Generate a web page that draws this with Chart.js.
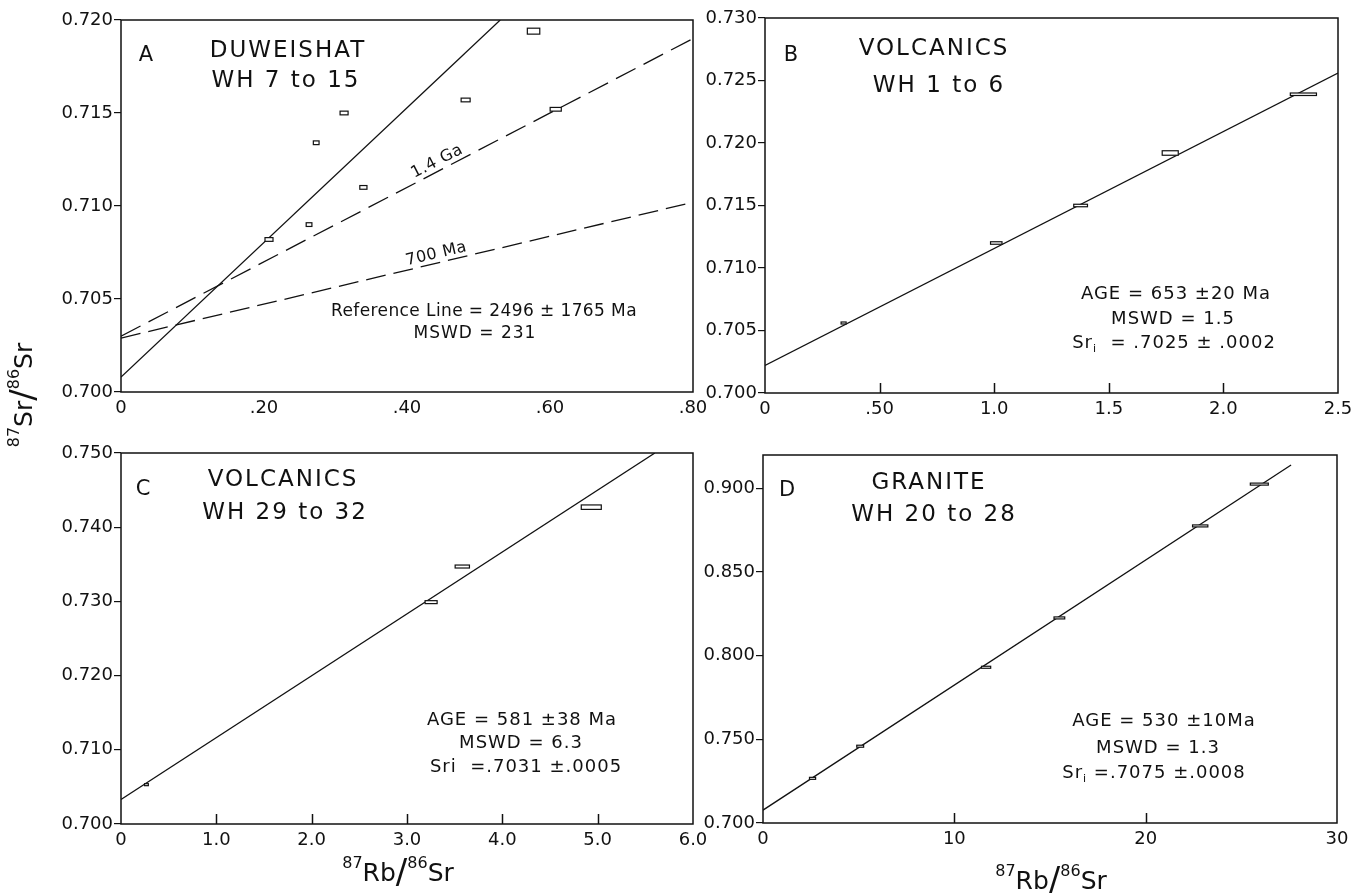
<!DOCTYPE html>
<html>
<head>
<meta charset="utf-8">
<title>Rb-Sr isochrons</title>
<script src="https://cdn.jsdelivr.net/npm/chart.js@4.4.1/dist/chart.umd.min.js"></script>
<style>
  html, body { margin: 0; padding: 0; background: #fff; }
  #page { position: relative; width: 1361px; height: 893px; overflow: hidden; }
  #page canvas { position: absolute; left: 0; top: 0; }
</style>
</head>
<body>
<div id="page">
  <canvas id="chartA" width="1361" height="893"></canvas>
  <canvas id="chartB" width="1361" height="893"></canvas>
  <canvas id="chartC" width="1361" height="893"></canvas>
  <canvas id="chartD" width="1361" height="893"></canvas>
</div>
<script>
// Panel A - Duweishat, WH 7 to 15
const A_RB = [0.207, 0.263, 0.273, 0.312, 0.339, 0.482, 0.577, 0.608];
const A_SR = [0.7082, 0.7090, 0.7134, 0.7150, 0.7110, 0.7157, 0.7194, 0.7152];
const A_RB_ERR = [0.0056, 0.004, 0.004, 0.0056, 0.005, 0.0063, 0.0087, 0.0078];
const A_SR_ERR = [0.0001, 0.0001, 0.0001, 0.0001, 0.0001, 0.0001, 0.00016, 0.0001];
const A_REF_X = [0, 0.5304];
const A_REF_Y = [0.7008, 0.7200];
const A_GA_X = [0, 0.80];
const A_GA_Y = [0.7030, 0.7190];
const A_MA_X = [0, 0.80];
const A_MA_Y = [0.7029, 0.7102];
const A_X_TICKS = [0, 0.2, 0.4, 0.6, 0.8];
const A_X_LABELS = ['0', '.20', '.40', '.60', '.80'];
const A_Y_TICKS = [0.700, 0.705, 0.710, 0.715, 0.720];
const A_Y_LABELS = ['0.700', '0.705', '0.710', '0.715', '0.720'];

// Panel B - Volcanics, WH 1 to 6
const B_RB = [0.343, 1.009, 1.377, 1.768, 2.349];
const B_SR = [0.7056, 0.7120, 0.7150, 0.7192, 0.7239];
const B_RB_ERR = [0.011, 0.025, 0.03, 0.035, 0.057];
const B_SR_ERR = [0.00005, 0.0001, 0.0001, 0.00018, 0.0001];
const B_LINE_X = [0, 2.5];
const B_LINE_Y = [0.7022, 0.7256];
const B_X_TICKS = [0, 0.5, 1.0, 1.5, 2.0, 2.5];
const B_X_LABELS = ['0', '.50', '1.0', '1.5', '2.0', '2.5'];
const B_Y_TICKS = [0.700, 0.705, 0.710, 0.715, 0.720, 0.725, 0.730];
const B_Y_LABELS = ['0.700', '0.705', '0.710', '0.715', '0.720', '0.725', '0.730'];

// Panel C - Volcanics, WH 29 to 32
const C_RB = [0.267, 3.253, 3.58, 4.933];
const C_SR = [0.7053, 0.7299, 0.7347, 0.7427];
const C_RB_ERR = [0.02, 0.063, 0.075, 0.105];
const C_SR_ERR = [0.0001, 0.0002, 0.0002, 0.0003];
const C_LINE_X = [0, 5.60];
const C_LINE_Y = [0.7033, 0.7500];
const C_X_TICKS = [0, 1, 2, 3, 4, 5, 6];
const C_X_LABELS = ['0', '1.0', '2.0', '3.0', '4.0', '5.0', '6.0'];
const C_Y_TICKS = [0.700, 0.710, 0.720, 0.730, 0.740, 0.750];
const C_Y_LABELS = ['0.700', '0.710', '0.720', '0.730', '0.740', '0.750'];

// Panel D - Granite, WH 20 to 28
const D_RB = [2.59, 5.08, 11.66, 15.49, 22.85, 25.94];
const D_SR = [0.7267, 0.7459, 0.7931, 0.8226, 0.8776, 0.9026];
const D_RB_ERR = [0.16, 0.18, 0.24, 0.28, 0.40, 0.47];
const D_SR_ERR = [0.0004, 0.0004, 0.0004, 0.0004, 0.0004, 0.0004];
const D_LINE_X = [0, 27.6];
const D_LINE_Y = [0.7077, 0.9140];
const D_X_TICKS = [0, 10, 20, 30];
const D_X_LABELS = ['0', '10', '20', '30'];
const D_Y_TICKS = [0.700, 0.750, 0.800, 0.850, 0.900];
const D_Y_LABELS = ['0.700', '0.750', '0.800', '0.850', '0.900'];

const FONT = '"DejaVu Sans", "Liberation Sans", sans-serif';
const INK = '#111';
const Y_W = 70, X_H = 30;

const pairs = (xs, ys) => xs.map((x, i) => ({ x, y: ys[i] }));

// draws a string made of normal / sup / sub / big pieces, centred on x
function drawRich(ctx, parts, x, y, size, spacing) {
    const fontFor = k => {
        const s = k === 'sup' || k === 'sub' ? Math.round(size * 0.62) : k === 'big' ? Math.round(size * 1.35) : size;
        return `${s}px ${FONT}`;
    };
    ctx.letterSpacing = (spacing || 0) + 'px';
    let total = 0;
    parts.forEach(([t, k]) => { ctx.font = fontFor(k); total += ctx.measureText(t).width; });
    let cx = x - total / 2;
    ctx.textAlign = 'left';
    ctx.textBaseline = 'middle';
    parts.forEach(([t, k]) => {
        ctx.font = fontFor(k);
        const dy = k === 'sup' ? -size * 0.42 : k === 'sub' ? size * 0.32 : 0;
        ctx.fillText(t, cx, y + dy);
        cx += ctx.measureText(t).width;
    });
    ctx.letterSpacing = '0px';
}

// frame, error boxes, inner ticks and all the lettering of one panel
function drawPanel(chart, deco) {
    const { ctx, chartArea: a } = chart;
    const xs = chart.scales.x, ys = chart.scales.y;
    ctx.save();

    chart.data.datasets.forEach(ds => {
        if (!ds.errX) return;
        ds.data.forEach((p, i) => {
            const x1 = xs.getPixelForValue(p.x - ds.errX[i]);
            const x2 = xs.getPixelForValue(p.x + ds.errX[i]);
            let y1 = ys.getPixelForValue(p.y + ds.errY[i]);
            let y2 = ys.getPixelForValue(p.y - ds.errY[i]);
            if (y2 - y1 < 2) { const m = (y1 + y2) / 2; y1 = m - 1; y2 = m + 1; }
            ctx.fillStyle = '#fff';
            ctx.fillRect(x1, y1, x2 - x1, y2 - y1);
            ctx.strokeStyle = INK;
            ctx.lineWidth = 1.2;
            ctx.strokeRect(x1, y1, x2 - x1, y2 - y1);
        });
    });

    ctx.strokeStyle = INK;
    ctx.lineWidth = 1.5;
    ctx.strokeRect(a.left, a.top, a.width, a.height);

    // x ticks pointing up into the plot
    (deco.innerTicks || []).forEach(v => {
        const px = Math.round(xs.getPixelForValue(v)) + 0.5;
        ctx.beginPath();
        ctx.moveTo(px, a.bottom);
        ctx.lineTo(px, a.bottom - 10);
        ctx.stroke();
    });

    ctx.fillStyle = INK;
    (deco.lineLabels || []).forEach(l => {
        const p0x = xs.getPixelForValue(l.lx[0]), p0y = ys.getPixelForValue(l.ly[0]);
        const p1x = xs.getPixelForValue(l.lx[1]), p1y = ys.getPixelForValue(l.ly[1]);
        const ang = Math.atan2(p1y - p0y, p1x - p0x);
        const t = (l.at - l.lx[0]) / (l.lx[1] - l.lx[0]);
        const vy = l.ly[0] + t * (l.ly[1] - l.ly[0]);
        ctx.save();
        ctx.translate(xs.getPixelForValue(l.at), ys.getPixelForValue(vy));
        ctx.rotate(ang);
        drawRich(ctx, [[l.text, '']], 0, -l.off, 16, 0.5);
        ctx.restore();
    });

    (deco.texts || []).forEach(t => {
        ctx.save();
        ctx.translate(t.x, t.y);
        if (t.rot) ctx.rotate(t.rot);
        drawRich(ctx, t.parts, 0, 0, t.size, t.sp);
        ctx.restore();
    });

    ctx.restore();
}

function makePanel(id, box, xMax, yMin, yMax, xTicks, xLabels, yTicks, yLabels, datasets, deco) {
    const tickFont = { family: FONT, size: 18 };
    new Chart(document.getElementById(id), {
        type: 'scatter',
        data: { datasets },
        options: {
            responsive: false,
            animation: false,
            events: [],
            layout: {
                padding: { left: box.l - Y_W, top: box.t, right: 1361 - box.r, bottom: 893 - box.b - X_H }
            },
            plugins: { legend: { display: false }, tooltip: { enabled: false } },
            scales: {
                x: {
                    type: 'linear', min: 0, max: xMax,
                    afterFit: s => { s.height = X_H; },
                    afterBuildTicks: s => { s.ticks = xTicks.map(v => ({ value: v })); },
                    grid: { display: false, drawTicks: false },
                    border: { display: false },
                    ticks: { color: INK, font: tickFont, padding: 6, maxRotation: 0, autoSkip: false,
                        callback: (v, i) => xLabels[i] }
                },
                y: {
                    type: 'linear', min: yMin, max: yMax,
                    afterFit: s => { s.width = Y_W; },
                    afterBuildTicks: s => { s.ticks = yTicks.map(v => ({ value: v })); },
                    grid: { drawOnChartArea: false, drawTicks: true, tickLength: 7, color: INK, lineWidth: 1.2 },
                    border: { display: false },
                    ticks: { color: INK, font: tickFont, padding: 1, autoSkip: false,
                        callback: (v, i) => yLabels[i] }
                }
            }
        },
        plugins: [{ id: 'panel' + id, afterDatasetsDraw: chart => drawPanel(chart, deco) }]
    });
}

const line = (xs, ys, dash) => ({
    type: 'line', data: pairs(xs, ys), showLine: true, borderColor: INK, borderWidth: 1.3,
    borderDash: dash || [], pointRadius: 0, fill: false
});
const boxes = (xs, ys, ex, ey) => ({ data: pairs(xs, ys), errX: ex, errY: ey, pointRadius: 0, showLine: false });

const axisTitle = (x, y) => ({
    x, y, size: 25, sp: 0,
    parts: [['87', 'sup'], ['Rb', ''], ['/', 'big'], ['86', 'sup'], ['Sr', '']]
});

makePanel('chartA', { l: 121, t: 20, r: 693, b: 392 }, 0.8, 0.700, 0.720,
    A_X_TICKS, A_X_LABELS, A_Y_TICKS, A_Y_LABELS,
    [line(A_REF_X, A_REF_Y), line(A_GA_X, A_GA_Y, [22, 9]), line(A_MA_X, A_MA_Y, [20, 8]),
     boxes(A_RB, A_SR, A_RB_ERR, A_SR_ERR)],
    {
        lineLabels: [
            { text: '1.4 Ga', lx: A_GA_X, ly: A_GA_Y, at: 0.448, off: 9 },
            { text: '700 Ma', lx: A_MA_X, ly: A_MA_Y, at: 0.444, off: 9 }
        ],
        texts: [
            { x: 146, y: 56, size: 21, parts: [['A', '']] },
            { x: 288, y: 51, size: 23, sp: 2, parts: [['DUWEISHAT', '']] },
            { x: 286, y: 81, size: 23, sp: 2, parts: [['WH 7 to 15', '']] },
            { x: 484, y: 312, size: 17, sp: 0.4, parts: [['Reference Line = 2496 ± 1765 Ma', '']] },
            { x: 475, y: 334, size: 17, sp: 1, parts: [['MSWD = 231', '']] },
            { x: 25, y: 395, rot: -Math.PI / 2, size: 25, sp: 0,
              parts: [['87', 'sup'], ['Sr', ''], ['/', 'big'], ['86', 'sup'], ['Sr', '']] }
        ]
    });

makePanel('chartB', { l: 765, t: 18, r: 1338, b: 393 }, 2.5, 0.700, 0.730,
    B_X_TICKS, B_X_LABELS, B_Y_TICKS, B_Y_LABELS,
    [line(B_LINE_X, B_LINE_Y), boxes(B_RB, B_SR, B_RB_ERR, B_SR_ERR)],
    {
        innerTicks: B_X_TICKS.slice(1, -1),
        texts: [
            { x: 791, y: 56, size: 21, parts: [['B', '']] },
            { x: 934, y: 49, size: 23, sp: 2, parts: [['VOLCANICS', '']] },
            { x: 939, y: 86, size: 23, sp: 2, parts: [['WH 1 to 6', '']] },
            { x: 1176, y: 294, size: 18, sp: 1, parts: [['AGE = 653 ±20 Ma', '']] },
            { x: 1173, y: 319, size: 18, sp: 1, parts: [['MSWD = 1.5', '']] },
            { x: 1174, y: 343, size: 18, sp: 1, parts: [['Sr', ''], ['i', 'sub'], ['  = .7025 ± .0002', '']] }
        ]
    });

makePanel('chartC', { l: 121, t: 453, r: 693, b: 824 }, 6.0, 0.700, 0.750,
    C_X_TICKS, C_X_LABELS, C_Y_TICKS, C_Y_LABELS,
    [line(C_LINE_X, C_LINE_Y), boxes(C_RB, C_SR, C_RB_ERR, C_SR_ERR)],
    {
        innerTicks: C_X_TICKS.slice(1, -1),
        texts: [
            { x: 143, y: 490, size: 21, parts: [['C', '']] },
            { x: 283, y: 480, size: 23, sp: 2, parts: [['VOLCANICS', '']] },
            { x: 285, y: 513, size: 23, sp: 2, parts: [['WH 29 to 32', '']] },
            { x: 522, y: 720, size: 18, sp: 1, parts: [['AGE = 581 ±38 Ma', '']] },
            { x: 521, y: 743, size: 18, sp: 1, parts: [['MSWD = 6.3', '']] },
            { x: 526, y: 767, size: 18, sp: 1, parts: [['Sri  =.7031 ±.0005', '']] },
            axisTitle(398, 874)
        ]
    });

makePanel('chartD', { l: 763, t: 455, r: 1337, b: 823 }, 30, 0.700, 0.920,
    D_X_TICKS, D_X_LABELS, D_Y_TICKS, D_Y_LABELS,
    [line(D_LINE_X, D_LINE_Y), boxes(D_RB, D_SR, D_RB_ERR, D_SR_ERR)],
    {
        innerTicks: D_X_TICKS.slice(1, -1),
        texts: [
            { x: 787, y: 491, size: 21, parts: [['D', '']] },
            { x: 929, y: 483, size: 23, sp: 2, parts: [['GRANITE', '']] },
            { x: 934, y: 515, size: 23, sp: 2, parts: [['WH 20 to 28', '']] },
            { x: 1164, y: 721, size: 18, sp: 1, parts: [['AGE = 530 ±10Ma', '']] },
            { x: 1158, y: 748, size: 18, sp: 1, parts: [['MSWD = 1.3', '']] },
            { x: 1154, y: 773, size: 18, sp: 1, parts: [['Sr', ''], ['i', 'sub'], [' =.7075 ±.0008', '']] },
            axisTitle(1051, 882)
        ]
    });
</script>
</body>
</html>
